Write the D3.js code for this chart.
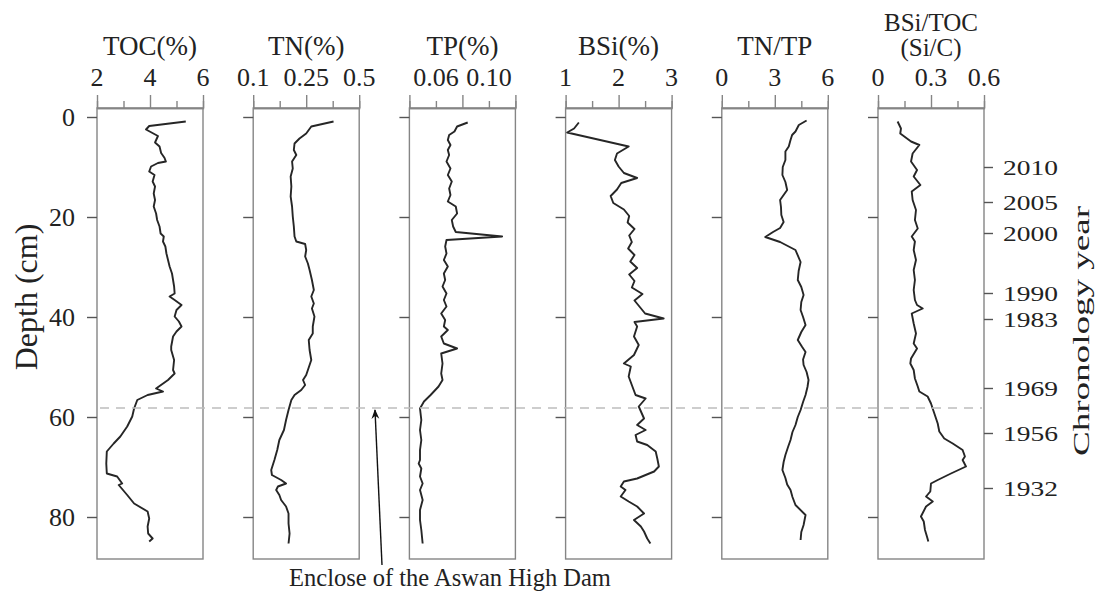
<!DOCTYPE html>
<html>
<head>
<meta charset="utf-8">
<script src="https://cdn.jsdelivr.net/npm/d3@7"></script>
<style>
  body { margin: 0; background: #fff; }
  text { font-family: "Liberation Serif", "Times New Roman", serif; fill: #222; }
</style>
</head>
<body>
<script>
'use strict';

const width = 1096;
const height = 592;

// depth (cm) / value pairs
const toc = [[0.9,5.35],[1.8,3.97],[2.5,3.85],[3.8,4.3],[5.1,4.19],[5.9,4.36],[7.2,4.42],[8.2,4.55],[8.9,4.6],[9.2,4.3],[9.9,4.04],[10.9,3.97],[11.6,4.17],[12.9,4.1],[13.9,4.19],[15.3,4.14],[16.6,4.19],[17.9,4.14],[19.3,4.23],[20.6,4.27],[21.9,4.36],[23.3,4.4],[23.9,4.52],[24.9,4.49],[25.9,4.58],[27.3,4.62],[28.6,4.68],[29.9,4.74],[31.3,4.83],[32.6,4.87],[33.9,4.91],[35.3,4.93],[35.9,4.74],[36.6,4.93],[37.6,5.19],[38.6,5.0],[39.9,4.93],[40.9,5.09],[41.9,5.19],[42.9,5.0],[43.9,4.87],[45.9,4.8],[46.6,4.8],[48.6,4.91],[50.6,4.87],[51.3,4.93],[52.6,4.68],[54.3,4.23],[54.9,4.49],[55.6,3.91],[56.6,3.52],[58.3,3.4],[59.9,3.33],[61.9,3.14],[63.9,2.88],[65.3,2.63],[66.9,2.37],[69.3,2.35],[71.3,2.37],[71.9,2.76],[73.3,2.95],[73.6,2.82],[75.6,3.14],[77.3,3.4],[78.9,3.91],[80.3,3.97],[81.9,3.91],[83.3,3.93],[84.3,4.1],[84.9,3.97]];

const tn = [[0.9,0.379],[1.9,0.274],[3.3,0.25],[4.3,0.231],[5.3,0.217],[6.6,0.215],[7.6,0.222],[8.9,0.21],[10.3,0.212],[11.9,0.206],[13.9,0.208],[15.9,0.206],[17.9,0.21],[19.9,0.212],[21.9,0.215],[23.9,0.217],[24.9,0.222],[25.4,0.247],[26.6,0.25],[27.9,0.247],[29.3,0.258],[30.6,0.266],[32.6,0.277],[34.6,0.286],[35.9,0.274],[37.3,0.286],[38.3,0.277],[39.9,0.289],[41.9,0.281],[43.3,0.281],[44.6,0.262],[46.6,0.266],[48.6,0.274],[50.6,0.258],[51.6,0.25],[52.6,0.241],[53.6,0.247],[54.6,0.236],[55.6,0.217],[56.6,0.208],[58.6,0.2],[60.6,0.193],[62.6,0.187],[64.6,0.174],[66.6,0.168],[68.6,0.16],[70.6,0.151],[71.6,0.153],[72.6,0.179],[73.3,0.193],[73.9,0.17],[74.6,0.165],[75.6,0.174],[76.6,0.179],[77.9,0.193],[79.3,0.2],[81.3,0.2],[83.3,0.203],[85.3,0.2]];

const tp = [[1.1,0.084],[1.9,0.076],[2.9,0.074],[3.6,0.070],[4.6,0.069],[5.6,0.071],[6.6,0.069],[7.6,0.070],[8.9,0.068],[10.3,0.071],[11.6,0.069],[12.9,0.072],[14.3,0.070],[15.6,0.071],[16.9,0.069],[17.9,0.075],[19.3,0.076],[20.6,0.072],[21.9,0.073],[23.0,0.075],[23.9,0.110],[24.6,0.068],[25.9,0.067],[27.3,0.068],[28.6,0.066],[29.9,0.069],[31.3,0.066],[32.6,0.067],[33.9,0.065],[35.3,0.068],[36.6,0.066],[37.9,0.068],[39.3,0.064],[40.6,0.067],[41.9,0.066],[42.6,0.069],[43.9,0.064],[45.3,0.066],[46.3,0.076],[47.3,0.064],[49.3,0.065],[51.3,0.064],[52.6,0.065],[53.9,0.062],[55.6,0.056],[56.9,0.051],[58.3,0.048],[60.6,0.049],[62.6,0.048],[64.6,0.049],[66.6,0.048],[68.6,0.048],[69.3,0.047],[70.3,0.049],[71.9,0.048],[73.3,0.050],[74.6,0.048],[76.6,0.050],[78.6,0.048],[80.6,0.048],[82.6,0.049],[85.3,0.050]];

const bsi = [[1.1,1.25],[2.3,1.16],[3.1,1.03],[5.9,2.19],[7.3,1.97],[8.6,1.93],[9.9,2.0],[11.2,2.1],[12.2,2.35],[13.2,2.05],[14.5,1.97],[15.8,1.85],[17.2,1.9],[18.5,2.1],[19.8,2.2],[21.1,2.17],[22.4,2.3],[23.7,2.2],[25,2.25],[26.3,2.18],[27.6,2.3],[28.9,2.22],[30.2,2.35],[31.5,2.2],[32.8,2.3],[34.1,2.25],[35.4,2.45],[36.7,2.3],[38,2.4],[39.3,2.5],[40.3,2.85],[41.0,2.3],[41.9,2.35],[43.9,2.29],[45.6,2.38],[47.6,2.29],[49.3,2.1],[49.9,2.23],[51.9,2.19],[53.9,2.26],[55.6,2.32],[56.3,2.51],[57.9,2.38],[60.3,2.48],[61.6,2.35],[62.6,2.51],[63.6,2.32],[64.9,2.35],[65.6,2.54],[66.9,2.7],[68.3,2.73],[69.9,2.76],[70.9,2.67],[71.6,2.51],[72.3,2.35],[72.9,2.1],[73.9,2.04],[74.6,2.13],[75.9,2.04],[76.9,2.19],[77.9,2.35],[79.3,2.48],[80.6,2.29],[81.9,2.42],[82.9,2.48],[84.3,2.54],[85.3,2.6]];

const tntp = [[0.7,4.8],[1.6,4.36],[2.9,4.17],[3.6,3.98],[4.6,3.89],[5.9,3.79],[6.9,3.6],[8.6,3.6],[10.0,3.45],[11.6,3.43],[13.0,3.6],[14.6,3.7],[16.6,3.3],[18.0,3.35],[19.6,3.37],[21.0,3.5],[22.2,3.3],[23.0,2.9],[24.0,2.46],[25.0,3.3],[26.6,4.17],[29.0,4.46],[30.8,4.35],[32.6,4.3],[34.0,4.5],[35.6,4.63],[37.0,4.5],[38.6,4.46],[40.0,4.6],[41.6,4.74],[43.0,4.5],[44.6,4.3],[46.0,4.55],[47.0,4.74],[48.5,4.6],[49.6,4.63],[51.0,4.8],[52.6,4.91],[54.0,4.85],[55.6,4.74],[57.0,4.6],[58.6,4.46],[60.0,4.3],[61.6,4.17],[63.0,4.0],[64.6,3.89],[66.0,3.75],[67.6,3.6],[69.0,3.5],[70.6,3.43],[72.2,3.6],[73.5,3.7],[74.6,3.89],[76.0,4.0],[77.6,4.17],[79.6,4.74],[81.6,4.63],[83.0,4.5],[84.6,4.46]];

const sic = [[0.9,0.111],[2.3,0.13],[3.3,0.126],[4.9,0.187],[5.6,0.234],[7.3,0.196],[8.9,0.187],[10.6,0.221],[11.9,0.202],[13.6,0.24],[14.9,0.191],[16.6,0.196],[18.6,0.215],[20.6,0.209],[22.3,0.225],[23.9,0.191],[24.9,0.209],[26.6,0.202],[28.6,0.215],[30.6,0.202],[32.6,0.209],[34.6,0.202],[36.6,0.209],[37.6,0.221],[38.3,0.253],[39.3,0.191],[41.3,0.202],[43.3,0.215],[45.3,0.202],[46.3,0.221],[48.3,0.187],[49.3,0.183],[50.6,0.202],[52.3,0.209],[53.9,0.225],[54.9,0.234],[55.9,0.281],[57.3,0.3],[59.3,0.319],[61.3,0.338],[62.9,0.347],[64.3,0.375],[65.3,0.423],[66.6,0.479],[67.9,0.492],[68.6,0.479],[69.9,0.498],[71.3,0.413],[72.6,0.338],[73.3,0.3],[74.9,0.296],[75.9,0.272],[76.9,0.31],[77.9,0.272],[79.9,0.243],[80.9,0.259],[82.6,0.266],[83.9,0.277],[84.9,0.285]];

const titles = [["TOC(%)"], ["TN(%)"], ["TP(%)"], ["BSi(%)"], ["TN/TP"], ["BSi/TOC", "(Si/C)"]];
const series = [toc, tn, tp, bsi, tntp, sic];
const domains = [[2, 6], [0.1, 0.25, 0.5], [0.04, 0.12], [1, 3], [0, 6], [0, 0.6]];
const majorTicks = [[2, 4, 6], [0.1, 0.25, 0.5], [0.04, 0.08, 0.12], [1, 2, 3], [0, 3, 6], [0, 0.3, 0.6]];
const minorTicks = [[3, 5], [0.175, 0.375], [0.06, 0.10], [1.5, 2.5], [1.5, 4.5], [0.15, 0.45]];
const tickLabels = [["2", "4", "6"], ["0.1", "0.25", "0.5"], ["0.06", "0.10"], ["1", "2", "3"], ["0", "3", "6"], ["0", "0.3", "0.6"]];
const labelAt = [[2, 4, 6], [0.1, 0.25, 0.5], [0.06, 0.10], [1, 2, 3], [0, 3, 6], [0, 0.3, 0.6]];

const depthTicks = [0, 20, 40, 60, 80];
const years = ["2010", "2005", "2000", "1990", "1983", "1969", "1956", "1932"];
const yearDepth = [10, 17, 23.2, 35.2, 40.4, 54.2, 63.2, 74.2];
const damDepth = 58.2;

const svg = d3.select("body")
    .append("svg")
    .attr("width", width)
    .attr("height", height);

let y = d3.scaleLinear()
    .domain([-1.8, 88.4])
    .range([108, 559]);

const panelW = 106;
const gap = 156.2;
const left0 = 97;
const boxColor = "#858585";

let line = d3.line();

series.forEach(function (data, i) {
    let x0 = left0 + i * gap;
    let dom = domains[i];
    let rng = dom.length === 3 ? [x0, x0 + panelW / 2, x0 + panelW] : [x0, x0 + panelW];
    let x = d3.scaleLinear().domain(dom).range(rng);

    let g = svg.append("g");

    // frame
    g.append("rect")
        .attr("x", x0)
        .attr("y", y(-1.8))
        .attr("width", panelW)
        .attr("height", y.range()[1] - y(-1.8))
        .attr("fill", "none")
        .attr("stroke", boxColor)
        .attr("stroke-width", 1.4);

    // top axis
    let top = g.append("g").attr("transform", "translate(0," + y(-1.8) + ")");
    top.call(d3.axisTop(x).tickValues(majorTicks[i]).tickSize(13).tickSizeOuter(0).tickFormat(""));
    top.call(g2 => g2.append("g").call(d3.axisTop(x).tickValues(minorTicks[i]).tickSize(7).tickFormat("")));
    top.selectAll("path, line").attr("stroke", boxColor).attr("stroke-width", 1.4);

    top.selectAll(".lbl")
        .data(labelAt[i])
        .enter()
        .append("text")
        .attr("class", "lbl")
        .attr("x", d => x(d))
        .attr("y", 86 - 108)
        .attr("text-anchor", "middle")
        .attr("font-size", 26)
        .text((d, k) => tickLabels[i][k]);

    // title
    let t = titles[i];
    t.forEach(function (s, k) {
        g.append("text")
            .attr("x", x0 + panelW / 2)
            .attr("y", t.length === 1 ? 55 : 31 + k * 25)
            .attr("text-anchor", "middle")
            .attr("font-size", t.length === 1 ? 27 : 25)
            .text(s);
    });

    // depth ticks
    let la = g.append("g").attr("transform", "translate(" + x0 + ",0)")
        .call(d3.axisLeft(y).tickValues(depthTicks).tickSize(10).tickPadding(12)
            .tickFormat(i === 0 ? d3.format("d") : ""));
    la.select(".domain").remove();
    la.selectAll("line").attr("stroke", "#555").attr("stroke-width", 1.4);
    la.selectAll("text").attr("font-size", 26).attr("fill", "#222");

    // profile
    line.x(d => x(d[1])).y(d => y(d[0]));
    g.append("path")
        .attr("d", line(data))
        .attr("fill", "none")
        .attr("stroke", "#262626")
        .attr("stroke-width", 1.9)
        .attr("stroke-linejoin", "round");
});

// chronology axis
let rightX = left0 + 5 * gap + panelW;
let yearScale = d3.scaleOrdinal().domain(yearDepth).range(years);
let ra = svg.append("g")
    .attr("transform", "translate(" + rightX + ",0)")
    .call(d3.axisRight(y).tickValues(yearDepth).tickSize(9).tickPadding(10).tickFormat(d => yearScale(d)));
ra.select(".domain").remove();
ra.selectAll("line").attr("stroke", "#555").attr("stroke-width", 1.4);
ra.selectAll("text")
    .attr("font-size", 22)
    .attr("textLength", 55)
    .attr("lengthAdjust", "spacingAndGlyphs")
    .attr("fill", "#222");

svg.append("text")
    .attr("transform", "translate(1089,331) rotate(-90)")
    .attr("text-anchor", "middle")
    .attr("font-size", 24)
    .attr("textLength", 250)
    .attr("lengthAdjust", "spacingAndGlyphs")
    .text("Chronology year");

svg.append("text")
    .attr("transform", "translate(37,297) rotate(-90)")
    .attr("text-anchor", "middle")
    .attr("font-size", 32)
    .text("Depth (cm)");

// dam line
svg.append("line")
    .attr("x1", 100)
    .attr("x2", rightX - 2)
    .attr("y1", y(damDepth))
    .attr("y2", y(damDepth))
    .attr("stroke", "#bdbdbd")
    .attr("stroke-width", 1.5)
    .attr("stroke-dasharray", "9,7");

svg.append("defs").append("marker")
    .attr("id", "arrow")
    .attr("viewBox", "0 0 10 10")
    .attr("refX", 9)
    .attr("refY", 5)
    .attr("markerWidth", 7)
    .attr("markerHeight", 7)
    .attr("orient", "auto")
    .append("path")
    .attr("d", "M0,1 L10,5 L0,9 L3,5 Z")
    .attr("fill", "#111");

svg.append("line")
    .attr("x1", 382)
    .attr("y1", 565)
    .attr("x2", 375)
    .attr("y2", y(damDepth) + 2)
    .attr("stroke", "#111")
    .attr("stroke-width", 1.4)
    .attr("marker-end", "url(#arrow)");

svg.append("text")
    .attr("x", 450)
    .attr("y", 586)
    .attr("text-anchor", "middle")
    .attr("font-size", 24.5)
    .text("Enclose of the Aswan High Dam");
</script>
</body>
</html>
